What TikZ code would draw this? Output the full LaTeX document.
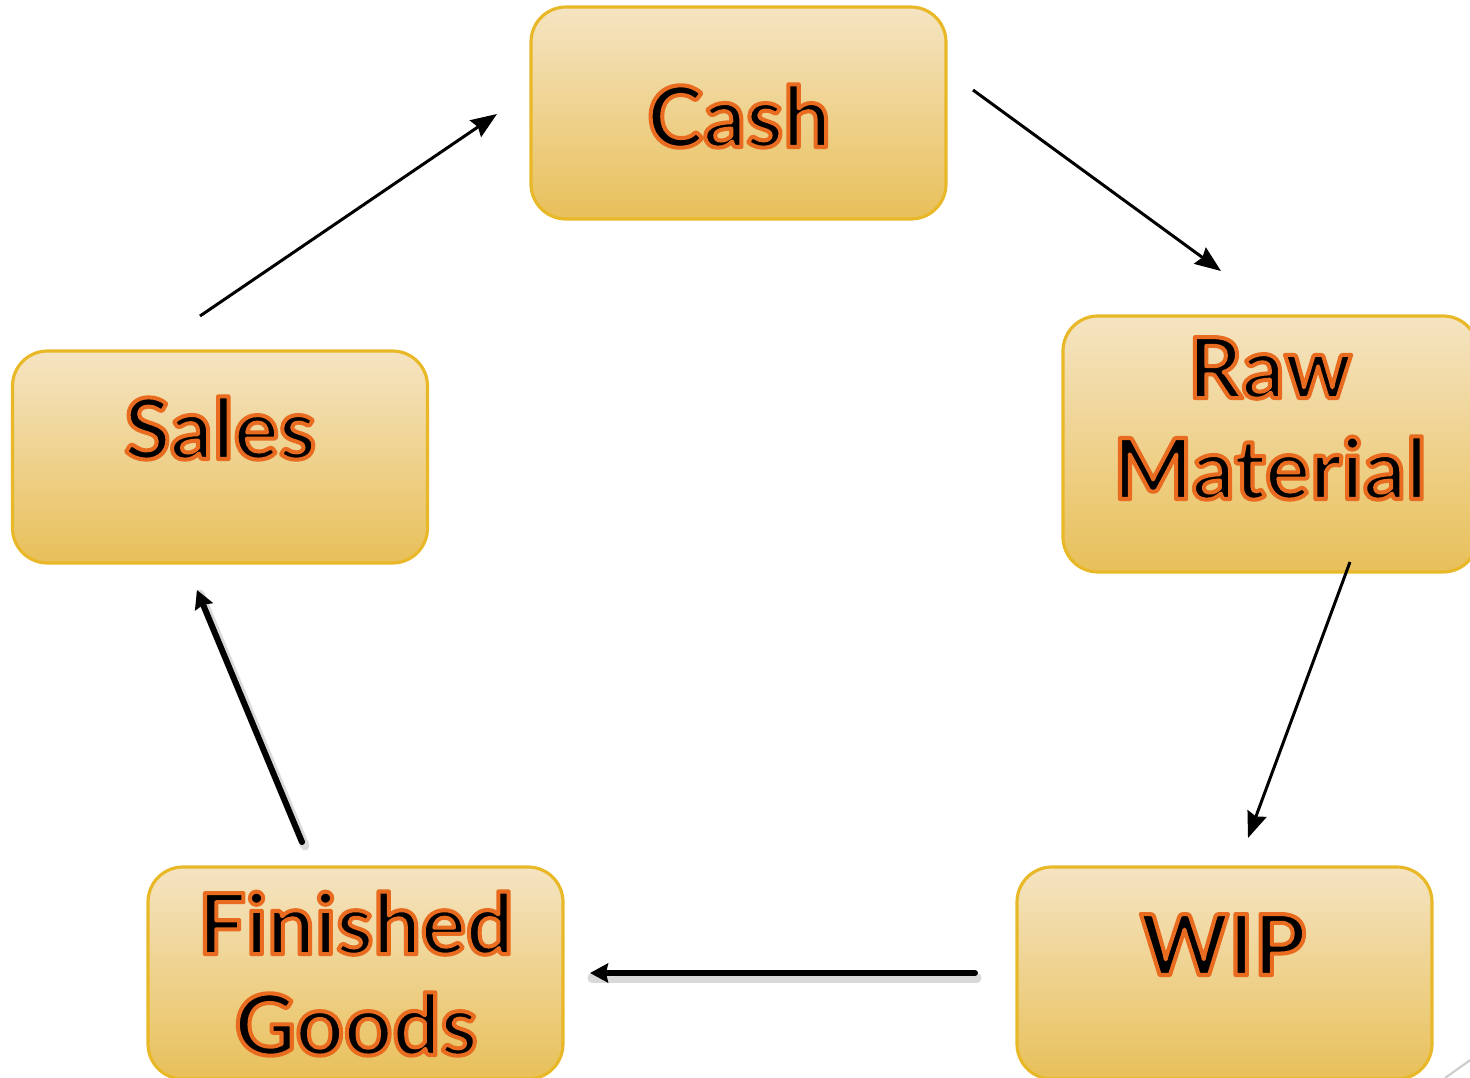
\documentclass[tikz,border=0pt]{standalone}
\usepackage{fontspec}
\setmainfont{Lato}
\usetikzlibrary{arrows.meta}
\definecolor{boxtop}{RGB}{245,228,194}
\definecolor{boxbot}{RGB}{232,192,90}
\definecolor{boxedge}{RGB}{232,184,40}
\newcommand{\ot}[1]{\special{pdf:literal direct 1 j 1.15 w 0.91 0.42 0.12 RG 2 Tr}#1\special{pdf:literal direct 0 Tr 0 0 0 RG}}
\tikzset{
  stagebox/.style={rounded corners=3.5mm, top color=boxtop, bottom color=boxbot,
    draw=boxedge, line width=0.9pt, minimum width=41.5mm, minimum height=21.2mm,
    inner sep=0pt},
  stagetext/.style={font=\bfseries\fontsize{24}{28.7}\selectfont, align=center, anchor=base, inner sep=0pt},
  thinarrow/.style={line width=0.85pt, -{Stealth[length=2.6mm, width=2mm, inset=0.3mm]}},
  thickarrow/.style={line width=1.7pt, line cap=round, -{Stealth[length=1.8mm, width=1.9mm, inset=0.2mm]}},
  arrowshadow/.style={line width=2.6pt, line cap=round, black, opacity=0.15},
}
\begin{document}
\begin{tikzpicture}[x=0.1mm, y=-0.1mm]
\useasboundingbox (0,0) rectangle (1470,1078);
% boxes
\node[stagebox] (cash) at (738.5,113) {};
\node[stagebox, minimum height=25.6mm] (raw) at (1270.5,444) {};
\node[stagebox] (sales) at (220,457) {};
\node[stagebox] (fg) at (355.5,973) {};
\node[stagebox] (wip) at (1224.5,973) {};
% texts
\node[stagetext] (cashT) at (739,147) {\ot{Cash}};
\node[stagetext] (rawT) at (1270,499) {\ot{Raw}\\\ot{Material}};
\node[stagetext] (salesT) at (220,459) {\ot{Sales}};
\node[stagetext] (fgT) at (356,1055) {\ot{Finished}\\\ot{Goods}};
\node[stagetext] (wipT) at (1223,975) {\ot{WIP}};
% connector end points
\coordinate (c1s) at (973,90);   \coordinate (c1e) at (1221,271);
\coordinate (c2s) at (1350,562); \coordinate (c2e) at (1248,838);
\coordinate (c3s) at (975,973);  \coordinate (c3e) at (590,973);
\coordinate (c4s) at (302,842);  \coordinate (c4e) at (197,590);
\coordinate (c5s) at (200,316);  \coordinate (c5e) at (497,114);
% shadows
\draw[arrowshadow] ([shift={(2,5)}]c3s) -- ([shift={(2,5)}]c3e);
\draw[arrowshadow] ([shift={(3,4)}]c4s) -- ([shift={(3,4)}]c4e);
% arrows
\draw[thinarrow] (c1s) -- (c1e);
\draw[thinarrow] (c2s) -- (c2e);
\draw[thickarrow] (c3s) -- (c3e);
\draw[thickarrow] (c4s) -- (c4e);
\draw[thinarrow] (c5s) -- (c5e);
% slide corner mark
\coordinate (m1) at (1445,1078); \coordinate (m2) at (1476,1056);
\draw[black!20, line width=0.6pt] (m1) -- (m2);
\end{tikzpicture}
\end{document}
